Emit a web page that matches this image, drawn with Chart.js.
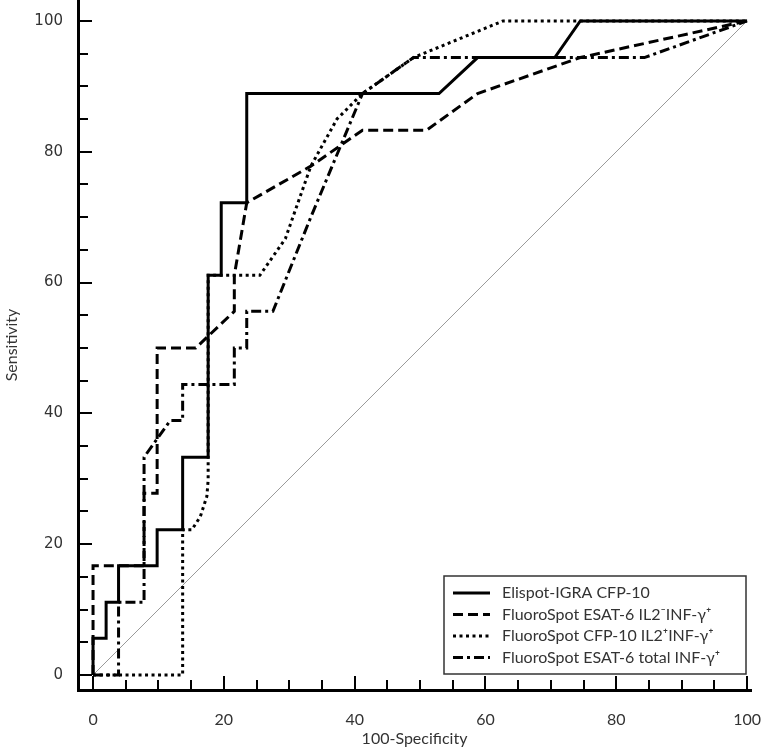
<!DOCTYPE html>
<html>
<head>
<meta charset="utf-8">
<script src="https://cdn.jsdelivr.net/npm/chart.js@4"></script>
<style>
html, body { margin: 0; background: #fff; }
</style>
</head>
<body>
<canvas id="rocChart" width="771" height="749"></canvas>
<script>
// axis ticks
const xTicks = [0, 20, 40, 60, 80, 100];
const yTicks = [0, 20, 40, 60, 80, 100];

const seriesLabels = [
	'Elispot-IGRA CFP-10',
	'FluoroSpot ESAT-6 IL2\u207BINF-\u03B3\u207A',
	'FluoroSpot CFP-10 IL2\u207AINF-\u03B3\u207A',
	'FluoroSpot ESAT-6 total INF-\u03B3\u207A',
];

// 100-Specificity (x) and Sensitivity (y)
const elispotX = [0, 0, 2.0, 2.0, 3.9, 3.9, 9.8, 9.8, 13.7, 13.7, 17.6, 17.6, 19.6, 19.6, 23.5, 23.5, 52.9, 58.8, 70.6, 74.5, 100];
const elispotY = [0, 5.6, 5.6, 11.1, 11.1, 16.7, 16.7, 22.2, 22.2, 33.3, 33.3, 61.1, 61.1, 72.2, 72.2, 88.9, 88.9, 94.4, 94.4, 100, 100];

const esatIl2NegX = [0, 0, 7.8, 7.8, 9.8, 9.8, 15.7, 21.6, 21.6, 23.5, 33.3, 41.2, 51.0, 58.8, 74.5, 100];
const esatIl2NegY = [0, 16.7, 16.7, 27.8, 27.8, 50.0, 50.0, 55.6, 61.1, 72.2, 77.8, 83.3, 83.3, 88.9, 94.4, 100];

const cfpIl2PosX = [0, 13.7, 13.7, 15.1, 16.4, 17.4, 17.6, 17.6, 25.5, 29.4, 33.3, 37.3, 41.2, 49.0, 62.7, 100];
const cfpIl2PosY = [0, 0, 22.2, 22.2, 24.2, 27.3, 29.8, 61.1, 61.1, 66.7, 77.8, 85.0, 88.9, 94.4, 100, 100];

const esatTotalX = [0, 3.9, 3.9, 7.8, 7.8, 9.8, 11.8, 13.7, 13.7, 21.6, 21.6, 23.5, 23.5, 27.5, 33.3, 41.2, 49.0, 84.3, 100];
const esatTotalY = [0, 0, 11.1, 11.1, 33.3, 36.1, 38.9, 38.9, 44.4, 44.4, 50.0, 50.0, 55.6, 55.6, 70.0, 88.9, 94.4, 94.4, 100];

const diagonalX = [0, 100];
const diagonalY = [0, 100];

function toPoints(xs, ys) {
	return xs.map((x, i) => ({ x: x, y: ys[i] }));
}

function curve(label, xs, ys, dash) {
	return {
		label: label,
		data: toPoints(xs, ys),
		borderColor: '#000',
		borderWidth: 3,
		borderDash: dash,
		borderCapStyle: 'butt',
		borderJoinStyle: 'miter',
		pointRadius: 0,
		tension: 0,
		fill: false,
		inLegend: true,
	};
}

// inward tick marks on both axes
const innerTicks = {
	id: 'innerTicks',
	afterDraw(chart) {
		const ctx = chart.ctx;
		const area = chart.chartArea;
		const xs = chart.scales.x;
		const ys = chart.scales.y;
		ctx.save();
		ctx.strokeStyle = '#000';
		ctx.lineWidth = 2;
		for (let v = 0; v <= 100; v += 5) {
			const major = v % 20 === 0;
			const len = major ? 14 : 10;
			const px = Math.round(xs.getPixelForValue(v));
			ctx.beginPath();
			ctx.moveTo(px, area.bottom);
			ctx.lineTo(px, area.bottom - len);
			ctx.stroke();
			const py = Math.round(ys.getPixelForValue(v));
			ctx.beginPath();
			ctx.moveTo(area.left, py);
			ctx.lineTo(area.left + len, py);
			ctx.stroke();
		}
		ctx.restore();
	},
};

// boxed legend inside the plot, bottom right
const boxLegend = {
	id: 'boxLegend',
	afterDraw(chart) {
		const ctx = chart.ctx;
		const area = chart.chartArea;
		const w = 302, h = 98;
		const left = area.right - 5 - w;
		const top = area.bottom - 16 - h;
		ctx.save();
		ctx.fillStyle = '#fff';
		ctx.fillRect(left, top, w, h);
		ctx.strokeStyle = '#333';
		ctx.lineWidth = 1.5;
		ctx.strokeRect(left, top, w, h);
		ctx.font = '16px Lato, "DejaVu Sans", sans-serif';
		ctx.textBaseline = 'middle';
		let row = 0;
		chart.data.datasets.forEach((ds) => {
			if (!ds.inLegend) return;
			const y = top + 17 + row * 21.5;
			ctx.strokeStyle = '#000';
			ctx.lineWidth = 3;
			ctx.setLineDash(ds.borderDash || []);
			ctx.beginPath();
			ctx.moveTo(left + 9, y);
			ctx.lineTo(left + 46, y);
			ctx.stroke();
			ctx.setLineDash([]);
			ctx.fillStyle = '#333';
			ctx.fillText(ds.label, left + 58, y);
			row++;
		});
		ctx.restore();
	},
};

const ctx = document.getElementById('rocChart');
const rocChart = new Chart(ctx, {
	type: 'line',
	data: {
		datasets: [
			curve(seriesLabels[0], elispotX, elispotY, []),
			curve(seriesLabels[1], esatIl2NegX, esatIl2NegY, [10, 5]),
			curve(seriesLabels[2], cfpIl2PosX, cfpIl2PosY, [3, 3.5]),
			curve(seriesLabels[3], esatTotalX, esatTotalY, [10, 4, 3, 4]),
			{
				label: 'Reference',
				data: toPoints(diagonalX, diagonalY),
				borderColor: '#999',
				borderWidth: 1,
				pointRadius: 0,
				tension: 0,
				fill: false,
			},
		],
	},
	options: {
		responsive: false,
		animation: false,
		layout: { padding: { top: 0, right: 20, bottom: 0, left: 0 } },
		plugins: {
			legend: { display: false },
			tooltip: { enabled: false },
		},
		scales: {
			x: {
				type: 'linear',
				min: -2.3,
				max: 100.6,
				afterBuildTicks: (axis) => { axis.ticks = xTicks.map((v) => ({ value: v })); },
				afterFit: (axis) => {
					axis.height = 59;
					axis.paddingLeft = 0;
					axis.paddingRight = 0;
				},
				grid: { display: false },
				border: { display: true, width: 3, color: '#000' },
				ticks: {
					padding: 12,
					maxRotation: 0,
					color: '#333',
					font: { family: 'Lato', size: 16 },
				},
				title: {
					display: true,
					text: '100-Specificity',
					color: '#333',
					font: { family: 'Lato', size: 16 },
					padding: { top: 0, bottom: 1 },
				},
			},
			y: {
				type: 'linear',
				min: -2.3,
				max: 103.2,
				afterBuildTicks: (axis) => { axis.ticks = yTicks.map((v) => ({ value: v })); },
				afterFit: (axis) => {
					axis.width = 78;
					axis.paddingTop = 0;
					axis.paddingBottom = 0;
				},
				grid: { display: false },
				border: { display: true, width: 3, color: '#000' },
				ticks: {
					padding: 7,
					color: '#333',
					font: { family: 'DejaVu Sans', size: 15 },
				},
				title: {
					display: true,
					text: 'Sensitivity',
					color: '#333',
					font: { family: 'Lato', size: 16 },
					padding: { top: 2, bottom: 0 },
				},
			},
		},
	},
	plugins: [innerTicks, boxLegend],
});
</script>
</body>
</html>
